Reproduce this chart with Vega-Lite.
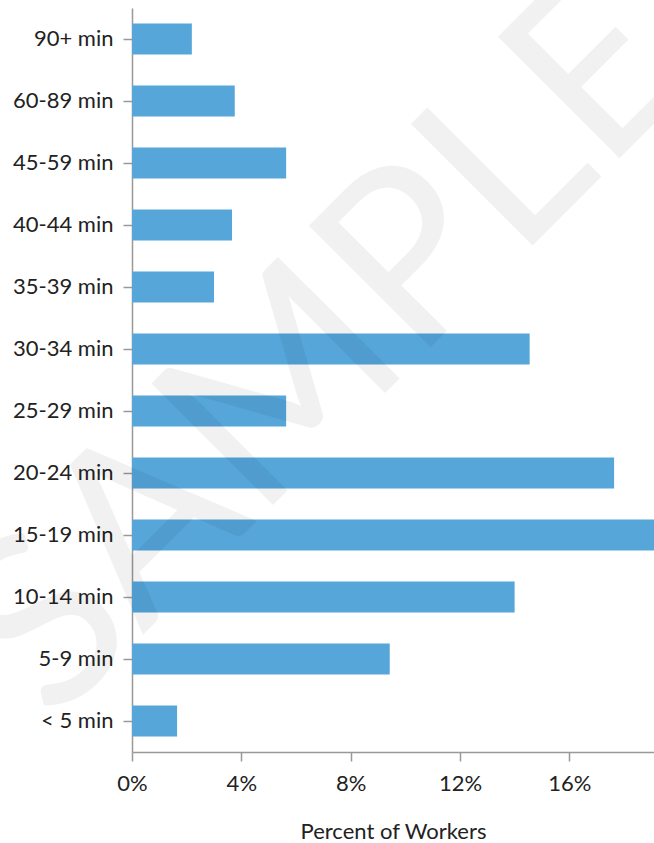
{
  "$schema": "https://vega.github.io/schema/vega-lite/v6.json",
  "width": 522,
  "height": 744,
  "autosize": {"type": "none"},
  "padding": {"left": 132, "top": 8, "right": 0, "bottom": 91},
  "background": "white",
  "config": {
    "view": {"stroke": null},
    "font": "Lato",
    "axis": {
      "domainColor": "#999999",
      "domainWidth": 1.5,
      "tickColor": "#999999",
      "tickWidth": 1.5,
      "tickSize": 9,
      "grid": false,
      "labelFont": "Lato",
      "labelFontSize": 22,
      "labelColor": "#222222",
      "titleFont": "Lato",
      "titleFontSize": 22,
      "titleFontWeight": "normal",
      "titleColor": "#222222"
    }
  },
  "resolve": {"scale": {"y": "independent"}, "axis": {"y": "independent"}},
  "layer": [
    {
      "data": {
        "values": [
          {"band": "90+ min", "pct": 2.19},
          {"band": "60-89 min", "pct": 3.76},
          {"band": "45-59 min", "pct": 5.64},
          {"band": "40-44 min", "pct": 3.66},
          {"band": "35-39 min", "pct": 3.0},
          {"band": "30-34 min", "pct": 14.55},
          {"band": "25-29 min", "pct": 5.64},
          {"band": "20-24 min", "pct": 17.64},
          {"band": "15-19 min", "pct": 19.1},
          {"band": "10-14 min", "pct": 14.0},
          {"band": "5-9 min", "pct": 9.43},
          {"band": "< 5 min", "pct": 1.65}
        ]
      },
      "mark": {"type": "bar", "color": "#56a6da"},
      "encoding": {
        "y": {
          "field": "band",
          "type": "nominal",
          "sort": ["90+ min", "60-89 min", "45-59 min", "40-44 min", "35-39 min", "30-34 min", "25-29 min", "20-24 min", "15-19 min", "10-14 min", "5-9 min", "< 5 min"],
          "scale": {"paddingInner": 0.5, "paddingOuter": 0.25},
          "axis": {"title": null, "labelPadding": 10}
        },
        "x": {
          "field": "pct",
          "type": "quantitative",
          "scale": {"domain": [0, 19.1], "nice": false},
          "axis": {
            "title": "Percent of Workers",
            "values": [0, 4, 8, 12, 16],
            "labelExpr": "datum.value + '%'",
            "labelFlush": false,
            "labelPadding": 12,
            "titlePadding": 27
          }
        }
      }
    },
    {
      "data": {"values": [{"label": "SAMPLE", "px": 8.98, "py": 5.67}]},
      "mark": {
        "type": "text",
        "angle": -45,
        "fontSize": 240,
        "font": "Lato",
        "align": "center",
        "baseline": "alphabetic",
        "color": "#000000",
        "opacity": 0.05
      },
      "encoding": {
        "text": {"field": "label"},
        "x": {"field": "px", "type": "quantitative", "title": "Percent of Workers"},
        "y": {"field": "py", "type": "quantitative", "scale": {"domain": [0, 12]}, "axis": null}
      }
    }
  ]
}
